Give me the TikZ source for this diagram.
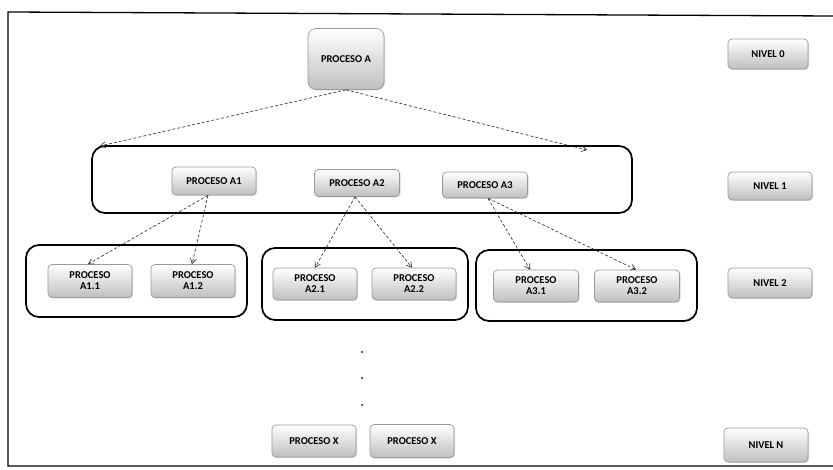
\documentclass[tikz,border=0pt]{standalone}
\usepackage{fontspec}
\setmainfont{Carlito}
\usetikzlibrary{arrows.meta,shadows,calc}

\tikzset{
  proc/.style={draw=gray!80, line width=0.7pt, rounded corners=4pt,
    top color=white, bottom color=gray!50, align=center,
    font=\bfseries\fontsize{10.5}{11}\selectfont, inner sep=1pt,
    drop shadow={opacity=0.3, shadow xshift=1pt, shadow yshift=-1pt}},
  group/.style={draw=black, line width=1.7pt, rounded corners=13pt},
  link/.style={draw=black!85, line width=0.6pt, densely dashed,
    -{Straight Barb[length=5pt,width=6pt]}},
}

\begin{document}
\begin{tikzpicture}[x=1pt, y=-1pt]
  \useasboundingbox (0,0) rectangle (833,470);
  \fill[white] (0,0) rectangle (833,470);

  % page frame
  \draw[line width=1.3pt] (833,16) -- (8,12) -- (8,466) -- (833,466);

  % level groups
  \draw[group] (92,146) rectangle (632,213);
  \draw[group] (26,245) rectangle (247,317);
  \draw[group] (262,248) rectangle (468,320);
  \draw[group] (476,250) rectangle (697,321);

  % level 0
  \node[proc, rounded corners=8pt, minimum width=76pt, minimum height=61pt] (A) at (346,59) {PROCESO A};
  \node[proc, minimum width=80pt, minimum height=30pt] (n0) at (768,54) {NIVEL 0};

  % level 1
  \node[proc, minimum width=84pt, minimum height=28pt] (A1) at (214,181) {PROCESO A1};
  \node[proc, minimum width=85pt, minimum height=27pt] (A2) at (357,183) {PROCESO A2};
  \node[proc, minimum width=85pt, minimum height=26pt] (A3) at (485,185) {PROCESO A3};
  \node[proc, minimum width=84pt, minimum height=28pt] (n1) at (770,186) {NIVEL 1};

  % level 2
  \node[proc, minimum width=84pt, minimum height=33pt] (A11) at (90,281) {PROCESO\\A1.1};
  \node[proc, minimum width=84pt, minimum height=33pt] (A12) at (193,281) {PROCESO\\A1.2};
  \node[proc, minimum width=84pt, minimum height=32pt] (A21) at (315,284) {PROCESO\\A2.1};
  \node[proc, minimum width=84pt, minimum height=32pt] (A22) at (414,284) {PROCESO\\A2.2};
  \node[proc, minimum width=85pt, minimum height=32pt] (A31) at (536,286) {PROCESO\\A3.1};
  \node[proc, minimum width=85pt, minimum height=32pt] (A32) at (637,286) {PROCESO\\A3.2};
  \node[proc, minimum width=84pt, minimum height=30pt] (n2) at (770,283) {NIVEL 2};

  % continuation dots
  \foreach \yy in {352,378,405} \fill (362,\yy) circle (1pt);

  % level N
  \node[proc, minimum width=84pt, minimum height=32pt] (X1) at (314,441) {PROCESO X};
  \node[proc, minimum width=84pt, minimum height=33pt] (X2) at (412,441) {PROCESO X};
  \node[proc, minimum width=84pt, minimum height=34pt] (nN) at (766,445) {NIVEL N};

  % arrow targets on the level 1 group
  \coordinate (g1l) at (100,146);
  \coordinate (g1r) at (587,150);

  % connectors
  \draw[link] (A.south) -- (g1l);
  \draw[link] (A.south) -- (g1r);
  \draw[link] ([xshift=-6pt]A1.south) -- ([xshift=-2pt]A11.north);
  \draw[link] ([xshift=-6pt]A1.south) -- ([xshift=-1pt]A12.north);
  \draw[link] ([xshift=-2pt]A2.south) -- (A21.north);
  \draw[link] ([xshift=-2pt]A2.south) -- ([xshift=-2pt]A22.north);
  \draw[link] ([xshift=3pt]A3.south) -- ([xshift=-6pt]A31.north);
  \draw[link] ([xshift=3pt]A3.south) -- ([xshift=-1pt]A32.north);
\end{tikzpicture}
\end{document}
